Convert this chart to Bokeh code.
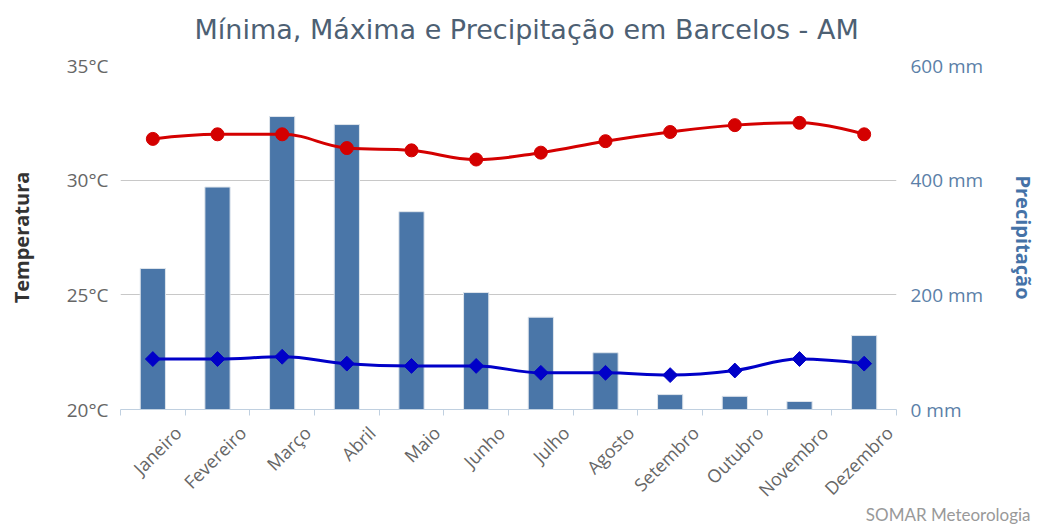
import numpy as np
from bokeh.plotting import figure
from bokeh.models import (Range1d, LinearAxis, FixedTicker, PrintfTickFormatter,
                          Grid, ColumnDataSource, Title)
from bokeh.embed import file_html
from bokeh.resources import INLINE

months = ["Janeiro", "Fevereiro", "Março", "Abril", "Maio", "Junho",
          "Julho", "Agosto", "Setembro", "Outubro", "Novembro", "Dezembro"]
precip_mm = [246, 388, 511, 497, 345, 204, 161, 99, 26, 23, 14, 129]
temp_max = [31.8, 32.0, 32.0, 31.4, 31.3, 30.9, 31.2, 31.7, 32.1, 32.4, 32.5, 32.0]
temp_min = [22.2, 22.2, 22.3, 22.0, 21.9, 21.9, 21.6, 21.6, 21.5, 21.7, 22.2, 22.0]
temp_ticks = [20, 25, 30, 35]
precip_ticks = [0, 200, 400, 600]

BAR = "#4a76a8"
RED = "#d40000"
BLUE = "#0000c8"
GRAY = "#666666"

# category centres on a numeric axis (category i spans i..i+1)
xpos = [i + 0.5 for i in range(len(months))]


def spline(xs, ys, smoothing=1.5):
    n = len(ys)
    denom = smoothing + 1
    left, right = [None] * n, [None] * n
    for i in range(n):
        x, y = xs[i], ys[i]
        if 0 < i < n - 1:
            lx, ly = xs[i - 1], ys[i - 1]
            nx, ny = xs[i + 1], ys[i + 1]
            lcx, lcy = (smoothing * x + lx) / denom, (smoothing * y + ly) / denom
            rcx, rcy = (smoothing * x + nx) / denom, (smoothing * y + ny) / denom
            corr = ((rcy - lcy) * (rcx - x)) / (rcx - lcx) + y - rcy
            lcy += corr
            rcy += corr
            if lcy > ly and lcy > y:
                lcy = max(ly, y); rcy = 2 * y - lcy
            elif lcy < ly and lcy < y:
                lcy = min(ly, y); rcy = 2 * y - lcy
            if rcy > ny and rcy > y:
                rcy = max(ny, y); lcy = 2 * y - rcy
            elif rcy < ny and rcy < y:
                rcy = min(ny, y); lcy = 2 * y - rcy
            left[i], right[i] = (lcx, lcy), (rcx, rcy)
        else:
            left[i] = right[i] = (x, y)
    d = dict(x0=[], y0=[], x1=[], y1=[], cx0=[], cy0=[], cx1=[], cy1=[])
    for i in range(1, n):
        d["x0"].append(xs[i - 1]); d["y0"].append(ys[i - 1])
        d["x1"].append(xs[i]); d["y1"].append(ys[i])
        d["cx0"].append(right[i - 1][0]); d["cy0"].append(right[i - 1][1])
        d["cx1"].append(left[i][0]); d["cy1"].append(left[i][1])
    return ColumnDataSource(d)


p = figure(width=1047, height=524, output_backend="svg", toolbar_location=None,
           x_range=Range1d(0, len(months)), y_range=Range1d(20, 35),
           x_axis_location=None, y_axis_location=None,
           min_border_left=120, min_border_right=151, min_border_top=65, min_border_bottom=115)
p.outline_line_color = None
p.background_fill_color = "white"
p.border_fill_color = "white"
p.grid.visible = False
p.extra_y_ranges = {"precip": Range1d(0, 600)}

# title (+ a blank spacer between title and plot area)
p.title = Title(text="Mínima, Máxima e Precipitação em Barcelos - AM", align="left", offset=74,
                text_font="DejaVu Sans", text_font_size="27px", text_font_style="normal",
                text_color="#4d6073", standoff=8)
p.add_layout(Title(text=" ", text_font_size="12px", standoff=1), "above")

# grid
p.add_layout(Grid(dimension=1, ticker=FixedTicker(ticks=temp_ticks[1:]),
                  grid_line_color="#c8c8c8", grid_line_width=1))

# left axis
yl = LinearAxis(ticker=FixedTicker(ticks=temp_ticks), formatter=PrintfTickFormatter(format="%d°C"),
                axis_label="Temperatura")
yl.axis_line_color = None
yl.major_tick_line_color = None
yl.major_tick_out = 0
yl.minor_tick_line_color = None
yl.major_label_standoff = 12
yl.major_label_text_font = "Open Sans"
yl.major_label_text_font_size = "19px"
yl.major_label_text_color = GRAY
yl.axis_label_text_font = "Open Sans"
yl.axis_label_text_font_size = "20px"
yl.axis_label_text_font_style = "bold"
yl.axis_label_text_color = "#333333"
yl.axis_label_standoff = 29
p.add_layout(yl, "left")

# right axis
yr = LinearAxis(y_range_name="precip", ticker=FixedTicker(ticks=precip_ticks),
                formatter=PrintfTickFormatter(format="%d mm"), axis_label="Precipitação")
yr.axis_line_color = None
yr.major_tick_line_color = None
yr.major_tick_out = 0
yr.minor_tick_line_color = None
yr.major_label_standoff = 14
yr.major_label_text_font = "Open Sans"
yr.major_label_text_font_size = "19px"
yr.major_label_text_color = "#5b7fa8"
yr.axis_label_text_font = "Open Sans"
yr.axis_label_text_font_size = "20px"
yr.axis_label_text_font_style = "bold"
yr.axis_label_text_color = "#4572A7"
yr.axis_label_standoff = 24
p.add_layout(yr, "right")

# bottom axis with month labels (tick marks on the category boundaries)
shift = 0.39
label_ticks = [round(x + shift, 3) for x in xpos]
xb = LinearAxis(ticker=FixedTicker(ticks=label_ticks, minor_ticks=list(range(len(months) + 1))),
                major_label_overrides={t: m for t, m in zip(label_ticks, months)})
xb.axis_line_color = "#c0d0e0"
xb.major_tick_line_color = None
xb.major_tick_out = 0
xb.major_tick_in = 0
xb.minor_tick_line_color = "#c0d0e0"
xb.minor_tick_out = 6
xb.minor_tick_in = 0
xb.major_label_orientation = np.pi / 4
xb.major_label_standoff = 14
xb.major_label_text_font = "Open Sans"
xb.major_label_text_font_size = "18px"
xb.major_label_text_color = GRAY
p.add_layout(xb, "below")

# footer credit (below the month labels)
p.add_layout(Title(text="SOMAR Meteorologia", align="right", offset=-134, standoff=-21,
                   text_font="Lato", text_font_size="17px", text_font_style="normal",
                   text_color="#999999"), "below")

# bars
src = ColumnDataSource(dict(x=xpos, month=months, precip=precip_mm, tmax=temp_max, tmin=temp_min))
p.vbar(x="x", top="precip", bottom=0, width=0.39, source=src, y_range_name="precip",
       fill_color=BAR, line_color="#dfe5ec", line_width=1)

# spline lines
p.bezier(x0="x0", y0="y0", x1="x1", y1="y1", cx0="cx0", cy0="cy0", cx1="cx1", cy1="cy1",
         source=spline(xpos, temp_max), line_color=RED, line_width=3)
p.bezier(x0="x0", y0="y0", x1="x1", y1="y1", cx0="cx0", cy0="cy0", cx1="cx1", cy1="cy1",
         source=spline(xpos, temp_min), line_color=BLUE, line_width=3)

p.scatter(x="x", y="tmax", source=src, marker="circle", size=13,
          fill_color=RED, line_color=RED)
p.scatter(x="x", y="tmin", source=src, marker="square", angle=np.pi / 4, size=10.5,
          fill_color=BLUE, line_color=BLUE)

open("out.html", "w").write(file_html(p, INLINE))
